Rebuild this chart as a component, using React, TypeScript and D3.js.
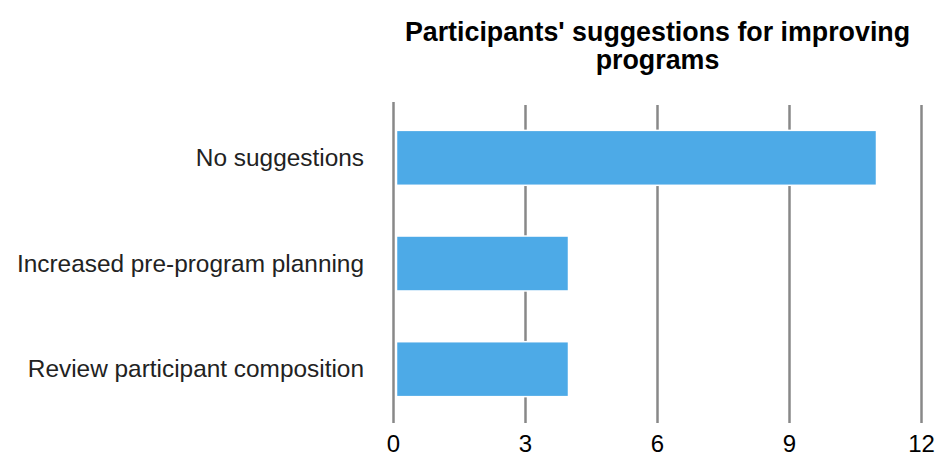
import React from "react";
import * as d3 from "d3";

const categories = ["No suggestions", "Increased pre-program planning", "Review participant composition"];
const values = [11, 4, 4];
const tickValues = [0, 3, 6, 9, 12];
const titleLines = ["Participants' suggestions for improving", "programs"];

const W = 939;
const H = 458;
const left = 393.5;
const right = 921.5;
const top = 105;
const bottom = 422;

export default function App() {
  const x = d3.scaleLinear().domain([0, 12]).range([left, right]);
  const y = d3
    .scaleBand<string>()
    .domain(categories)
    .range([top, bottom])
    .paddingInner(0.48)
    .paddingOuter(0.24);
  const font = "'Liberation Sans', Helvetica, Arial, sans-serif";
  const cx = (left + right) / 2;
  return (
    <svg
      width={W}
      height={H}
      style={{ position: "absolute", left: 0, top: 0, background: "#fff" }}
      fontFamily={font}
    >
      {titleLines.map((t, i) => (
        <text
          key={i}
          x={cx}
          y={41 + i * 28}
          textAnchor="middle"
          fontSize={26.8}
          fontWeight="bold"
          fill="#000"
        >
          {t}
        </text>
      ))}
      {tickValues.map((t) => (
        <line
          key={t}
          x1={x(t)}
          x2={x(t)}
          y1={t === 0 ? 102 : 105}
          y2={423}
          stroke="#888"
          strokeWidth={2.5}
        />
      ))}
      {categories.map((c, i) => (
        <rect
          key={c}
          x={x(0) + 3}
          y={y(c)!}
          width={x(values[i]) - x(0) - 4}
          height={y.bandwidth()}
          fill="#4DAAE7"
          stroke="#fff"
          strokeWidth={1.5}
        />
      ))}
      {categories.map((c) => (
        <text
          key={c}
          x={364}
          y={y(c)! + y.bandwidth() / 2 + 8}
          textAnchor="end"
          fontSize={24.4}
          fill="#222"
        >
          {c}
        </text>
      ))}
      {tickValues.map((t) => (
        <text key={t} x={x(t)} y={452} textAnchor="middle" fontSize={24} fill="#000">
          {t}
        </text>
      ))}
    </svg>
  );
}
